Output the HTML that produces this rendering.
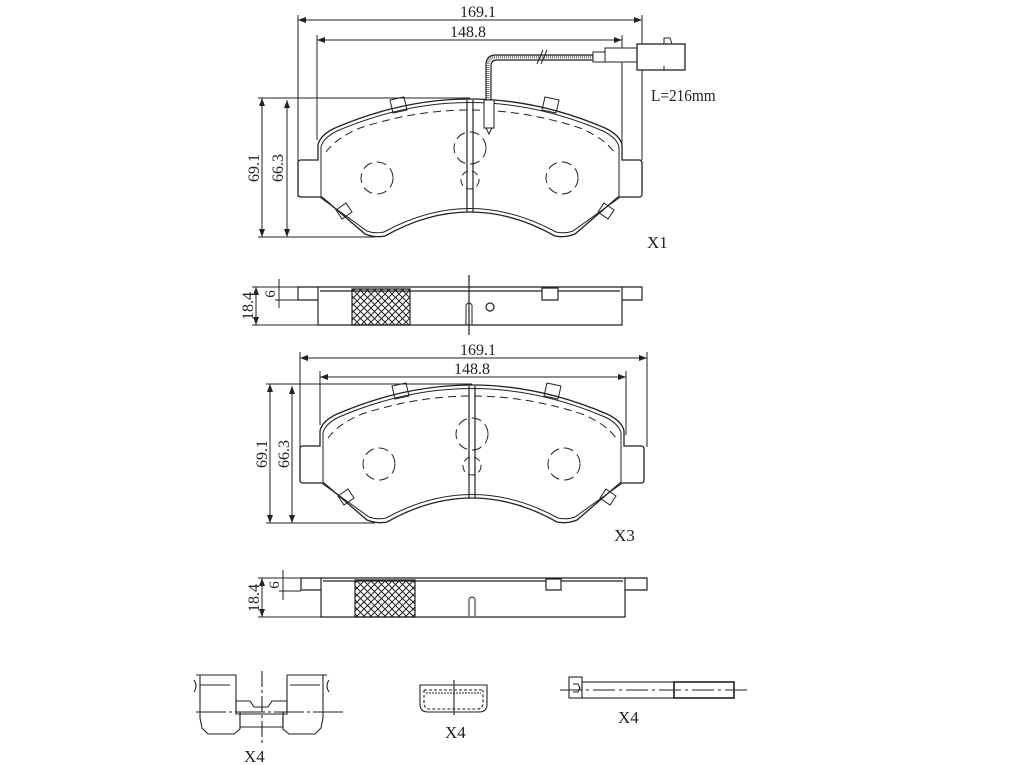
<!DOCTYPE html>
<html><head><style>
html,body{margin:0;padding:0;background:#fff;}
svg{display:block}
text{font-family:"Liberation Serif","DejaVu Serif",serif;fill:#222;}
</style></head><body>
<svg width="1024" height="765" viewBox="0 0 1024 765" xmlns="http://www.w3.org/2000/svg">
<defs>
<pattern id="hx" width="7" height="7" patternUnits="userSpaceOnUse">
<path d="M0,0L7,7M7,0L0,7" stroke="#222" stroke-width="1"/>
</pattern>
<marker id="ar" markerWidth="8" markerHeight="6" refX="8" refY="3" orient="auto-start-reverse" markerUnits="userSpaceOnUse">
<path d="M0,0L8,3L0,6" fill="#222"/>
</marker>
<g id="pad" fill="none" stroke="#222" stroke-width="1.3">
<path d="M298,163 Q298,160 301,160 L318,160 L318,145 Q320,135 335,128 Q470,70 605,128 Q620,135 622,145 L622,160 L639,160 Q642,160 642,163 L642,194 Q642,197 639,197 L618,197 L575,234 Q565,238 555,236 Q470,188 385,236 Q375,238 365,234 L322,197 L301,197 Q298,197 298,194 Z"/>
<path d="M321,147 Q323,138 337,131 Q470,74 603,131 Q617,138 619,147 L619,198 L573,231 Q565,234 556,232 Q470,185 384,232 Q375,234 367,231 L321,198 Z" stroke-width="1"/>
<path d="M326,152 Q336,138 360,128 Q470,92 580,128 Q604,138 614,152" stroke-dasharray="8,5" stroke-width="1"/>
<path d="M390,100 L404,97 L407,110 L393,113 Z M545,97 L559,100 L556,113 L542,110 Z" stroke-width="1"/>
<path d="M336,210 L346,203 L352,212 L342,219 Z M604,203 L614,210 L608,219 L598,212 Z" stroke-width="1"/>
<path d="M467,100 L467,212 M473,100 L473,212" stroke-width="1.2"/>
<circle cx="377" cy="178" r="16" stroke-dasharray="10,5" stroke-width="1"/>
<circle cx="562" cy="178" r="16" stroke-dasharray="10,5" stroke-width="1"/>
<circle cx="470" cy="148" r="16" stroke-dasharray="10,5" stroke-width="1"/>
<circle cx="470" cy="180" r="9" stroke-dasharray="7,4" stroke-width="1"/>
</g>
</defs>

<!-- pad 1 -->
<use href="#pad"/>
<g fill="none" stroke="#222" stroke-width="1">
<path d="M298,15 L298,197 M642,15 L642,160 M317,35 L317,140 M622,35 L622,150"/>
<path d="M298,20 L642,20" marker-start="url(#ar)" marker-end="url(#ar)"/>
<path d="M317,40 L622,40" marker-start="url(#ar)" marker-end="url(#ar)"/>
<path d="M258,98 L470,98 M258,237 L375,237"/>
<path d="M262,98 L262,237" marker-start="url(#ar)" marker-end="url(#ar)"/>
<path d="M287,100 L287,237" marker-start="url(#ar)" marker-end="url(#ar)"/>
</g>
<g fill="none" stroke="#222">
<path d="M486,100 L486,65 Q486,55 496,55 L593,55 M491,100 L491,66 Q491,60 497,60 L593,60" stroke-width="1.2"/>
<path d="M488,100 L488,65 Q488,57 496,57 L593,57" stroke="#777" stroke-width="3" stroke-dasharray="1,1"/>
<path d="M537,64 L543,50 M541,64 L547,50" stroke-width="1"/>
<rect x="484" y="100" width="10" height="28" fill="#fff" stroke-width="1"/>
<path d="M486,128 L489,134 L492,128" stroke-width="1"/>
<rect x="593" y="52" width="12" height="10" fill="#fff" stroke-width="1"/>
<rect x="605" y="48" width="32" height="14" fill="#fff" stroke-width="1"/>
<rect x="637" y="44" width="48" height="26" fill="#fff" stroke-width="1.3"/>
<path d="M664,44 L664,38 L670,38 L672,44 M664,70 L664,66" stroke-width="1"/>
</g>
<text x="651" y="101" font-size="17" transform="translate(651,0) scale(0.9,1) translate(-651,0)">L=216mm</text>
<text x="647" y="248" font-size="17">X1</text>
<text x="478" y="17" font-size="16" text-anchor="middle">169.1</text>
<text x="468" y="37" font-size="16" text-anchor="middle">148.8</text>
<text transform="translate(259,168) rotate(-90)" font-size="16" text-anchor="middle">69.1</text>
<text transform="translate(283,168) rotate(-90)" font-size="16" text-anchor="middle">66.3</text>

<!-- side 1 -->
<g fill="none" stroke="#222" stroke-width="1.2">
<path d="M298,287 L642,287 L642,300 L622,300 L622,325 L318,325 L318,300 L298,300 Z"/>
<path d="M318,287 L318,300 M622,287 L622,300 M320,291 L620,291"/>
<path d="M352,289 L410,289 L410,325 L352,325 Z" fill="url(#hx)"/>
<path d="M542,288 L558,288 L558,300 L542,300 Z" fill="#fff"/>
<path d="M469,275 L469,335"/>
<circle cx="490" cy="307" r="4"/>
</g>
<g fill="none" stroke="#222" stroke-width="1">
<path d="M466,305 L466,325 M472,305 L472,325 M466,305 Q469,301 472,305"/>
<path d="M252,287 L298,287 M252,325 L318,325 M275,300 L298,300"/>
<path d="M256,287 L256,325" marker-start="url(#ar)" marker-end="url(#ar)"/>
<path d="M279,279 L279,308"/>
</g>
<text transform="translate(253,306) rotate(-90)" font-size="16" text-anchor="middle">18.4</text>
<text transform="translate(275,294) rotate(-90)" font-size="15" text-anchor="middle">6</text>

<!-- pad 2 -->
<use href="#pad" transform="translate(2,286)"/>
<g fill="none" stroke="#222" stroke-width="1">
<path d="M300,352 L300,447 M647,352 L647,447 M320,371 L320,425 M626,371 L626,435"/>
<path d="M300,358 L647,358" marker-start="url(#ar)" marker-end="url(#ar)"/>
<path d="M320,377 L626,377" marker-start="url(#ar)" marker-end="url(#ar)"/>
<path d="M266,384 L472,384 M266,523 L375,523"/>
<path d="M270,384 L270,523" marker-start="url(#ar)" marker-end="url(#ar)"/>
<path d="M292,386 L292,523" marker-start="url(#ar)" marker-end="url(#ar)"/>
</g>
<text x="478" y="355" font-size="16" text-anchor="middle">169.1</text>
<text x="472" y="374" font-size="16" text-anchor="middle">148.8</text>
<text transform="translate(267,454) rotate(-90)" font-size="16" text-anchor="middle">69.1</text>
<text transform="translate(289,454) rotate(-90)" font-size="16" text-anchor="middle">66.3</text>
<text x="614" y="541" font-size="17">X3</text>

<!-- side 2 -->
<g fill="none" stroke="#222" stroke-width="1.2">
<path d="M301,578 L647,578 L647,590 L625,590 L625,617 L321,617 L321,590 L301,590 Z"/>
<path d="M321,578 L321,590 M625,578 L625,590 M323,581 L623,581"/>
<path d="M355,580 L415,580 L415,617 L355,617 Z" fill="url(#hx)"/>
<path d="M546,579 L561,579 L561,590 L546,590 Z" fill="#fff"/>
</g>
<g fill="none" stroke="#222" stroke-width="1">
<path d="M469,599 L469,616 M475,599 L475,616 M469,599 Q472,595 475,599"/>
<path d="M258,578 L301,578 M258,617 L321,617 M279,591 L301,591"/>
<path d="M262,578 L262,617" marker-start="url(#ar)" marker-end="url(#ar)"/>
<path d="M283,570 L283,600"/>
</g>
<text transform="translate(259,598) rotate(-90)" font-size="16" text-anchor="middle">18.4</text>
<text transform="translate(279,585) rotate(-90)" font-size="15" text-anchor="middle">6</text>

<!-- clip -->
<g fill="none" stroke="#222" stroke-width="1.1">
<path d="M196,675 L236,675 M200,675 L200,718 L202,728 L208,734 L234,734 L240,729 L240,712 M236,675 L236,712"/>
<path d="M194,680 Q196,683 196,686 Q196,689 194,692 M200,685 L230,685"/>
<path d="M287,675 L327,675 M323,675 L323,718 L321,728 L315,734 L289,734 L283,729 L283,712 M287,675 L287,712"/>
<path d="M329,680 Q327,683 327,686 Q327,689 329,692 M290,685 L320,685"/>
<path d="M236,701 L250,701 L254,707 L268,707 L272,701 L287,701 L287,714 L236,714 Z"/>
<path d="M240,714 L240,727 L283,727 L283,714"/>
<path d="M196,712 L346,712" stroke-dasharray="30,3,3,3"/>
<path d="M262,671 L262,745" stroke-dasharray="16,3,3,3"/>
</g>
<text x="244" y="762" font-size="17">X4</text>

<!-- small clip -->
<g fill="none" stroke="#222" stroke-width="1.1">
<path d="M420,685 L487,685 L487,704 Q487,712 479,712 L428,712 Q420,712 420,704 Z"/>
<path d="M424,690 L483,690 M424,690 L424,703 Q424,709 430,709 L477,709 Q483,709 483,703 L483,690" stroke-dasharray="3,2"/>
<path d="M426,693 L481,693" stroke-dasharray="2,1"/>
<path d="M454,680 L454,715"/>
</g>
<text x="445" y="738" font-size="17">X4</text>

<!-- bolt -->
<g fill="none" stroke="#222" stroke-width="1.1">
<rect x="569" y="677" width="13" height="21"/>
<path d="M573,684 L578,684 L580,688 L578,692 L573,692"/>
<rect x="582" y="682" width="92" height="16"/>
<rect x="674" y="682" width="60" height="16" stroke-width="1.6"/>
<path d="M560,690 L750,690" stroke-dasharray="22,4,3,4"/>
</g>
<text x="618" y="723" font-size="17">X4</text>
</svg>
</body></html>
